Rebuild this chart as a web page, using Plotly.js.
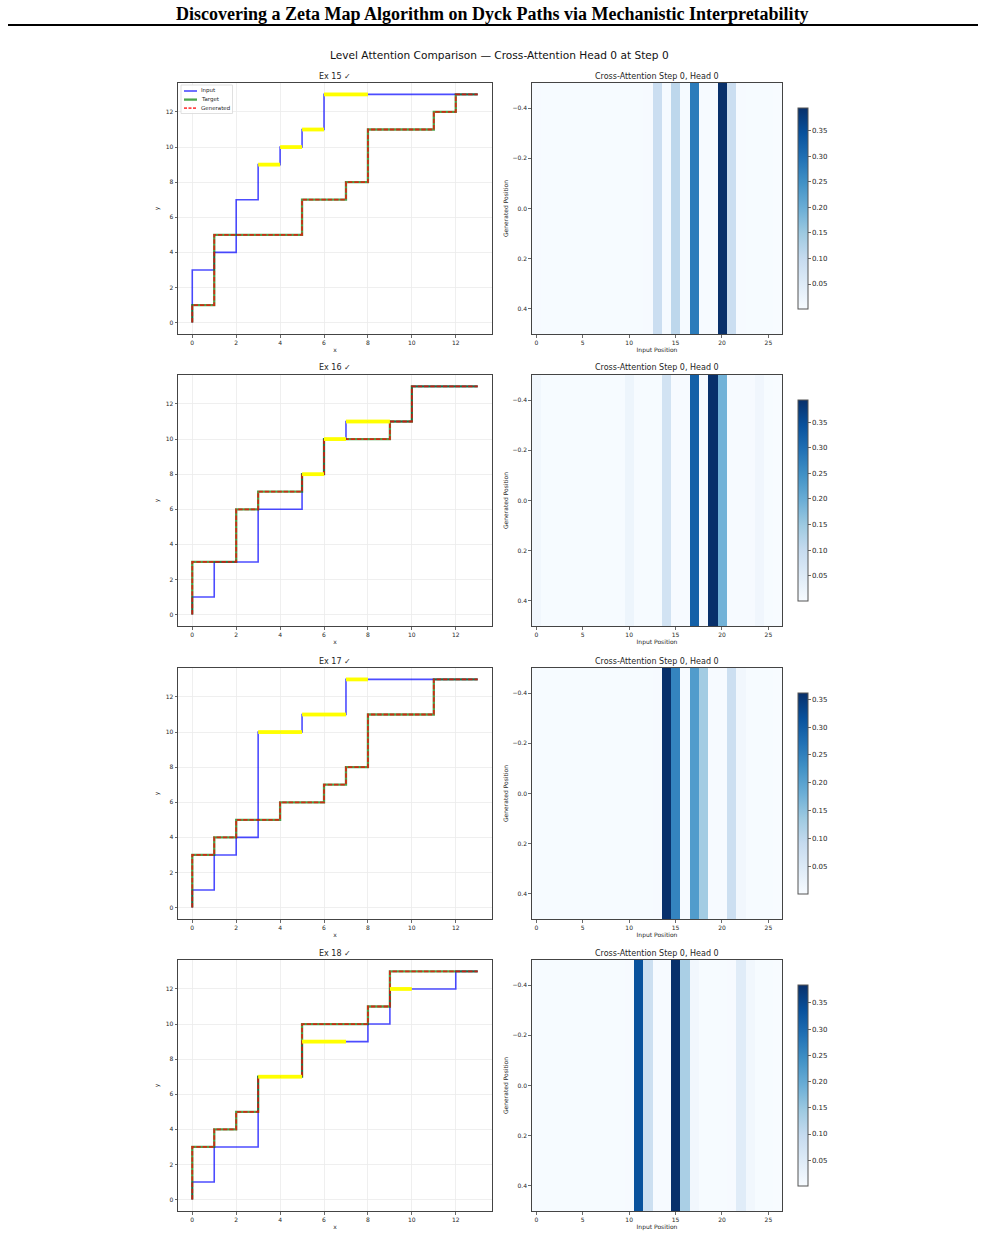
<!DOCTYPE html>
<html><head><meta charset="utf-8">
<script src="https://cdn.plot.ly/plotly-3.0.1.min.js"></script>
<style>html,body{margin:0;padding:0;background:#fff;} #chart{width:985px;height:1239px;}</style>
</head><body><div id="chart"></div>
<script>
// ---------------- DATA ----------------
const pageTitle = 'Discovering a Zeta Map Algorithm on Dyck Paths via Mechanistic Interpretability';
const figTitle = 'Level Attention Comparison — Cross-Attention Head 0 at Step 0';
const exampleTitles = ['Ex 15 ✓', 'Ex 16 ✓', 'Ex 17 ✓', 'Ex 18 ✓'];
const heatTitle = 'Cross-Attention Step 0, Head 0';
const seriesNames = ['Input', 'Target', 'Generated'];

// Dyck paths as step words (N = up, E = right)
const input15 = 'NNNENENNNENNENENENNEEEEEEE';
const target15 = 'NENNNNEEEENNEENENNNEEENENE';
const generated15 = 'NENNNNEEEENNEENENNNEEENENE';
const input16 = 'NENNEENNNEENNENNENEEENNEEE';
const target16 = 'NNNEENNNENEENENNEEENENNEEE';
const generated16 = 'NNNEENNNENEENENNEEENENNEEE';
const input17 = 'NENNENENNNNNNEENEENNEEEEEE';
const target17 = 'NNNENENEENEENENENNNEEENNEE';
const generated17 = 'NNNENENEENEENENENNNEEENNEE';
const input18 = 'NENNEENNNNEENNEEENENNEEENE';
const target18 = 'NNNENENENNEENNNEEENENNEEEE';
const generated18 = 'NNNENENENNEENNNEEENENNEEEE';

// highlighted (high-attention) input step indices
const highlight15 = [12, 14, 16, 19, 20];
const highlight16 = [13, 16, 18, 19];
const highlight17 = [13, 14, 16, 17, 20];
const highlight18 = [10, 11, 14, 15, 21];

// cross-attention weights over input positions 0..26
const positions = [0,1,2,3,4,5,6,7,8,9,10,11,12,13,14,15,16,17,18,19,20,21,22,23,24,25,26];
const attn15 = [0.003,0.002,0.002,0.002,0.002,0.002,0.002,0.002,0.002,0.002,0.002,0.002,0.003,0.090,0.004,0.110,0.004,0.280,0.003,0.003,0.395,0.090,0.003,0.002,0.002,0.002,0.001];
const attn16 = [0.012,0.002,0.002,0.002,0.002,0.002,0.002,0.002,0.002,0.002,0.020,0.002,0.002,0.002,0.075,0.003,0.003,0.320,0.003,0.393,0.190,0.003,0.003,0.003,0.015,0.002,0.001];
const attn17 = [0.002,0.002,0.002,0.002,0.002,0.002,0.002,0.002,0.002,0.002,0.002,0.002,0.002,0.003,0.361,0.245,0.003,0.210,0.130,0.003,0.003,0.080,0.012,0.002,0.002,0.002,0.001];
const attn18 = [0.002,0.002,0.002,0.002,0.002,0.002,0.002,0.002,0.002,0.002,0.003,0.335,0.085,0.003,0.003,0.384,0.130,0.012,0.002,0.002,0.002,0.003,0.045,0.012,0.002,0.002,0.001];

const pathTicks = [0, 2, 4, 6, 8, 10, 12];
const posTicks = [0, 5, 10, 15, 20, 25];
const genTickVals = [-0.4, -0.2, 0, 0.2, 0.4];
const genTickText = ['−0.4', '−0.2', '0.0', '0.2', '0.4'];
const cbTickVals = [0.05, 0.10, 0.15, 0.20, 0.25, 0.30, 0.35];
const cbTickText = ['0.05', '0.10', '0.15', '0.20', '0.25', '0.30', '0.35'];

// ---------------- BUILD ----------------
const W = 985, H = 1239;
const FONT = 'DejaVu Sans, sans-serif';
const TXT = '#262626';
const examples = [
  {input: input15, target: target15, generated: generated15, hl: highlight15, attn: attn15},
  {input: input16, target: target16, generated: generated16, hl: highlight16, attn: attn16},
  {input: input17, target: target17, generated: generated17, hl: highlight17, attn: attn17},
  {input: input18, target: target18, generated: generated18, hl: highlight18, attn: attn18},
];
const blues = [[0,'#f7fbff'],[0.125,'#deebf7'],[0.25,'#c6dbef'],[0.375,'#9ecae1'],[0.5,'#6baed6'],[0.625,'#4292c6'],[0.75,'#2171b5'],[0.875,'#08519c'],[1,'#08306b']];
const styles = [
  {color: 'rgba(0,0,255,0.7)', width: 1.6},
  {color: 'rgba(0,128,0,0.7)', width: 2.3},
  {color: 'rgba(255,0,0,0.72)', width: 1.8, dash: '4.5px,1.8px'}
];

function walk(word) {
  const xs = [0], ys = [0];
  let x = 0, y = 0;
  for (const c of word) { if (c === 'N') y++; else x++; xs.push(x); ys.push(y); }
  return {xs, ys};
}
function px(x) { return x / W; }
function py(y) { return 1 - y / H; }

const rowTop = [83, 375, 668, 960];
const rowBot = [334, 626, 919, 1211];
const leftX = [178, 492];
const heatX = [531.7, 782.3];

const data = [];
const layout = {
  width: W, height: H,
  margin: {l: 0, r: 0, t: 0, b: 0},
  paper_bgcolor: '#fff', plot_bgcolor: '#fff',
  font: {family: FONT, color: TXT, size: 6},
  showlegend: false,
  annotations: [], shapes: []
};

const axBase = {
  showline: true, mirror: true, linecolor: '#444', linewidth: 1,
  ticks: 'outside', ticklen: 2.5, tickwidth: 0.8, tickcolor: '#444',
  tickfont: {size: 6, family: FONT, color: TXT}, zeroline: false
};
const tfont = {size: 6, family: FONT, color: TXT};

examples.forEach((ex, i) => {
  const la = 2 * i + 1, ha = 2 * i + 2;
  const xa = 'x' + (la === 1 ? '' : la), ya = 'y' + (la === 1 ? '' : la);
  const xh = 'x' + ha, yh = 'y' + ha;
  const paths = [walk(ex.input), walk(ex.target), walk(ex.generated)];
  paths.forEach((p, s) => {
    data.push({type: 'scatter', mode: 'lines', x: p.xs, y: p.ys, xaxis: xa, yaxis: ya,
      name: seriesNames[s], line: styles[s], hoverinfo: 'skip'});
  });
  const inp = paths[0];
  const hx = [], hy = [];
  ex.hl.forEach(k => { hx.push(inp.xs[k], inp.xs[k + 1], null); hy.push(inp.ys[k], inp.ys[k + 1], null); });
  data.push({type: 'scatter', mode: 'lines', x: hx, y: hy, xaxis: xa, yaxis: ya,
    line: {color: 'rgb(255,255,0)', width: 3.8}, hoverinfo: 'skip'});

  data.push({type: 'heatmap', z: [ex.attn], x: positions, y: [0], xaxis: xh, yaxis: yh,
    colorscale: blues, showscale: true, hoverinfo: 'skip',
    colorbar: {
      x: px(798), xanchor: 'left', y: py(rowTop[i] + 125.5), yanchor: 'middle',
      len: 201, lenmode: 'pixels', thickness: 10, thicknessmode: 'pixels',
      xpad: 0, ypad: 0, outlinewidth: 1, outlinecolor: '#555',
      ticks: 'outside', ticklen: 2.5, tickwidth: 0.8, tickcolor: '#444',
      tickvals: cbTickVals, ticktext: cbTickText,
      tickfont: {size: 7, family: FONT, color: TXT}
    }});

  const dom = [py(rowBot[i]), py(rowTop[i])];
  layout['xaxis' + (la === 1 ? '' : la)] = Object.assign({}, axBase, {
    domain: [px(leftX[0]), px(leftX[1])], anchor: ya, range: [-0.65, 13.65],
    tickvals: pathTicks, showgrid: true, gridcolor: '#ebebeb', gridwidth: 0.8,
    title: {text: 'x', font: tfont, standoff: 3}
  });
  layout['yaxis' + (la === 1 ? '' : la)] = Object.assign({}, axBase, {
    domain: dom, anchor: xa, range: [-0.65, 13.65],
    tickvals: pathTicks, showgrid: true, gridcolor: '#ebebeb', gridwidth: 0.8,
    title: {text: 'y', font: tfont, standoff: 5}
  });
  layout['xaxis' + ha] = Object.assign({}, axBase, {
    domain: [px(heatX[0]), px(heatX[1])], anchor: yh, range: [-0.5, 26.5],
    tickvals: posTicks, showgrid: false,
    title: {text: 'Input Position', font: tfont, standoff: 3}
  });
  layout['yaxis' + ha] = Object.assign({}, axBase, {
    domain: dom, anchor: xh, range: [0.5, -0.5],
    tickvals: genTickVals, ticktext: genTickText, showgrid: false,
    title: {text: 'Generated Position', font: tfont, standoff: 3}
  });

  layout.annotations.push({xref: 'paper', yref: 'paper', x: px((leftX[0] + leftX[1]) / 2), y: py(rowTop[i] - 0.5),
    xanchor: 'center', yanchor: 'bottom', showarrow: false, text: exampleTitles[i],
    font: {size: 8, family: FONT, color: TXT}});
  layout.annotations.push({xref: 'paper', yref: 'paper', x: px((heatX[0] + heatX[1]) / 2), y: py(rowTop[i] - 0.5),
    xanchor: 'center', yanchor: 'bottom', showarrow: false, text: heatTitle,
    font: {size: 8, family: FONT, color: TXT}});
});

// legend (first panel, upper left)
const lg = {x0: 181, y0: 85, x1: 232.5, y1: 113.5};
layout.shapes.push({type: 'rect', xref: 'paper', yref: 'paper', x0: px(lg.x0), x1: px(lg.x1), y0: py(lg.y0), y1: py(lg.y1),
  fillcolor: 'rgba(255,255,255,0.85)', line: {color: '#d8d8d8', width: 0.8}, layer: 'above'});
seriesNames.forEach((nm, s) => {
  const yy = 91 + s * 8.6;
  const st = styles[s];
  layout.shapes.push({type: 'line', xref: 'paper', yref: 'paper', x0: px(184), x1: px(197), y0: py(yy), y1: py(yy),
    line: {color: st.color, width: st.width, dash: st.dash ? '3px,1.5px' : 'solid'}, layer: 'above'});
  layout.annotations.push({xref: 'paper', yref: 'paper', x: px(200), y: py(yy), xanchor: 'left', yanchor: 'middle',
    showarrow: false, text: nm, font: {size: 5.5, family: FONT, color: TXT}, borderpad: 0});
});

layout.annotations.push({xref: 'paper', yref: 'paper', x: px(492.5), y: py(13.5), xanchor: 'center', yanchor: 'middle',
  showarrow: false, text: '<b>' + pageTitle + '</b>', font: {size: 18, family: 'Liberation Serif, Times New Roman, serif', color: '#000'}});
layout.annotations.push({xref: 'paper', yref: 'paper', x: px(500), y: py(55), xanchor: 'center', yanchor: 'middle',
  showarrow: false, text: figTitle, font: {size: 10.6, family: FONT, color: '#111'}});
layout.shapes.push({type: 'line', xref: 'paper', yref: 'paper', x0: px(8), x1: px(978), y0: py(25), y1: py(25),
  line: {color: '#000', width: 2}});

Plotly.newPlot('chart', data, layout, {staticPlot: true, displayModeBar: false});
</script>
</body></html>
